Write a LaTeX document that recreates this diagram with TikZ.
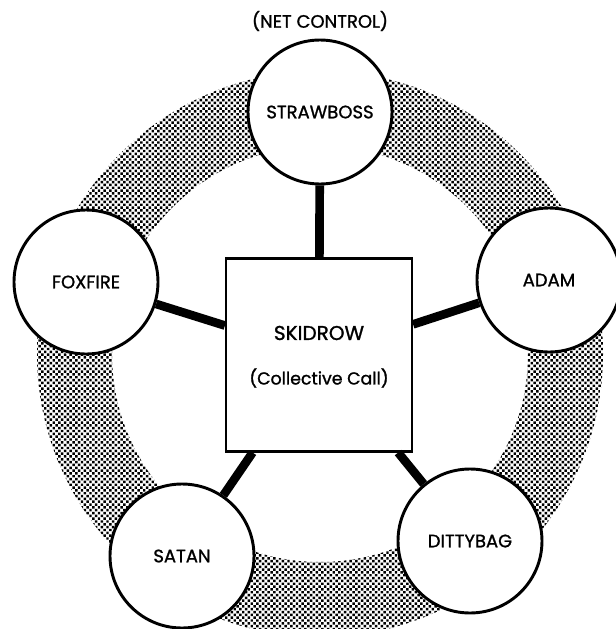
\documentclass[tikz,border=0pt]{standalone}
\usepackage{fontspec}
\setmainfont{Poppins}[FakeBold=1.2]
\usetikzlibrary{patterns.meta}
\begin{document}
\begin{tikzpicture}[x=0.75pt,y=-0.75pt,
  station/.style={circle, draw=black, line width=2.2pt, fill=white, minimum size=144*0.75pt, inner sep=0pt, font=\fontsize{13.5}{15}\selectfont},
  hub/.style={rectangle, draw=black, line width=1.6pt, fill=white, minimum width=186*0.75pt, minimum height=193*0.75pt, inner sep=0pt, align=center},
  link/.style={line width=6.5pt, draw=black},
  halftone/.style={pattern={Dots[radius=1.3pt, distance=3pt, angle=45]}, pattern color=black}
]
\useasboundingbox (0,0) rectangle (615,629);
% halftone ring
\fill[halftone, even odd rule] (320,354) circle[radius=283*0.75pt] (320,354) circle[radius=208*0.75pt];
% hub
\node[hub] (skidrow) at (319,355) {};
\node[font=\fontsize{15}{17}\selectfont] (skidrowlabel) at (319,333) {SKIDROW};
\node[font=\fontsize{13}{15}\selectfont] (collective) at (319,378) {(Collective Call)};
% stations
\coordinate (cS) at (320,112);
\coordinate (cF) at (86,282);
\coordinate (cA) at (549,280);
\coordinate (cD) at (470,541);
\coordinate (cT) at (182,556);
\node[station] (strawboss) at (cS) {STRAWBOSS};
\node[station] (foxfire) at (cF) {FOXFIRE};
\node[station] (adam) at (cA) {ADAM};
\node[station] (dittybag) at (cD) {DITTYBAG};
\node[station] (satan) at (cT) {SATAN};
% links
\draw[link] (skidrow) -- (strawboss);
\draw[link] (skidrow) -- (foxfire);
\draw[link] (skidrow) -- (adam);
\draw[link] (skidrow) -- (dittybag);
\draw[link] (skidrow) -- (satan);
\node[font=\fontsize{13.5}{15}\selectfont] (netcontrol) at (320,21) {(NET CONTROL)};
\end{tikzpicture}
\end{document}
